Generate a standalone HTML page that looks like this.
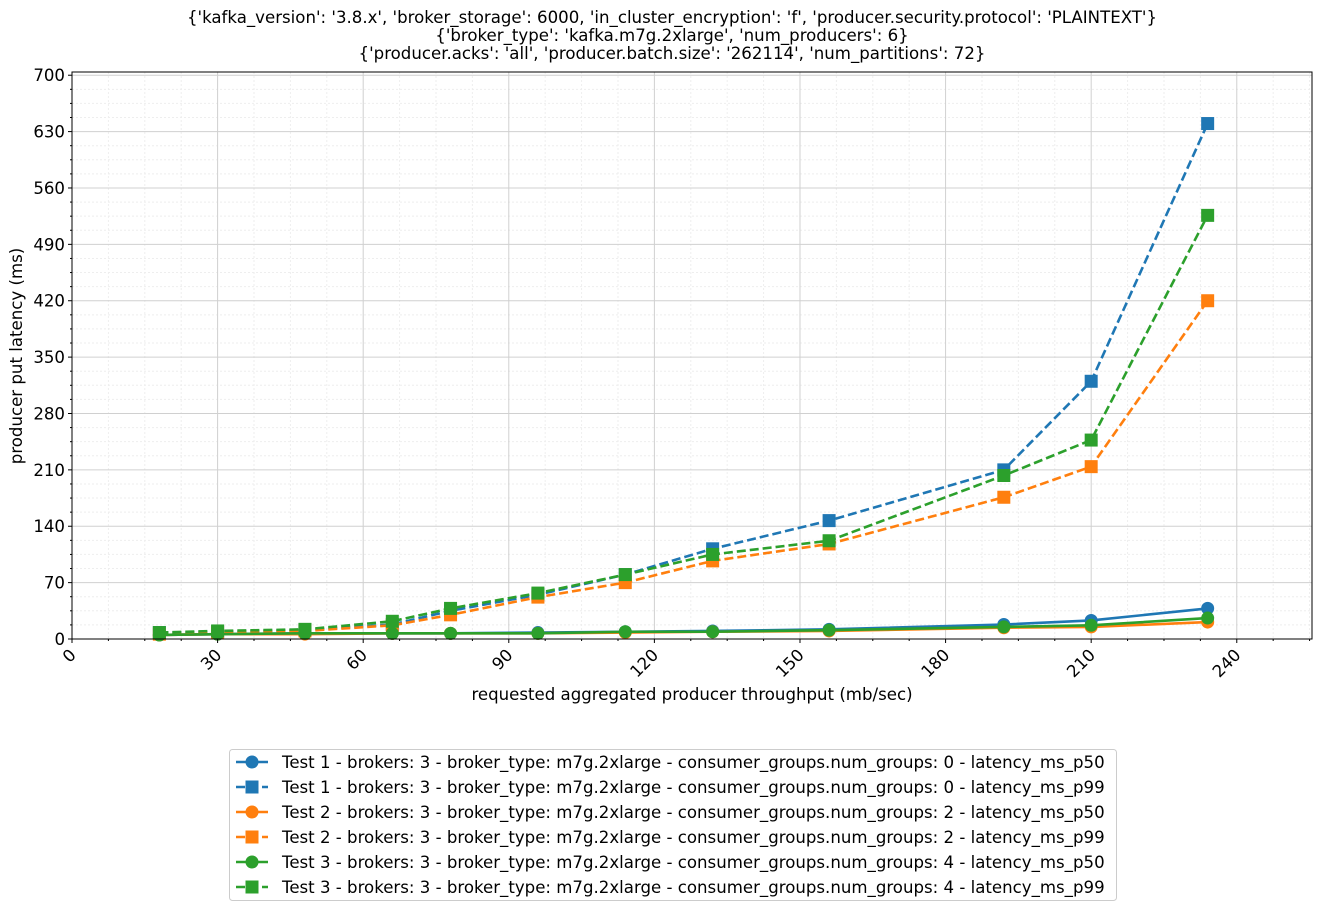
<!DOCTYPE html>
<html><head><meta charset="utf-8"><style>
body{margin:0;background:#fff;font-family:"Liberation Sans","DejaVu Sans",sans-serif;}
svg text{font-family:"DejaVu Sans","Liberation Sans",sans-serif;}
</style></head><body>
<svg id="chart" width="1322" height="911" xmlns="http://www.w3.org/2000/svg">
<g font-size="16.6" text-anchor="middle" fill="#000">
<text x="672" y="23">{'kafka_version': '3.8.x', 'broker_storage': 6000, 'in_cluster_encryption': 'f', 'producer.security.protocol': 'PLAINTEXT'}</text>
<text x="672" y="41">{'broker_type': 'kafka.m7g.2xlarge', 'num_producers': 6}</text>
<text x="672" y="59">{'producer.acks': 'all', 'producer.batch.size': '262114', 'num_partitions': 72}</text>
</g>
<g id="grid"></g>
<g id="series"></g>
<rect x="72" y="72" width="1240" height="567" fill="none" stroke="#000" stroke-width="1"/>
<g id="axes"></g>
<text x="692" y="700" font-size="16.6" text-anchor="middle">requested aggregated producer throughput (mb/sec)</text>
<text transform="translate(22,356) rotate(-90)" font-size="16.6" text-anchor="middle">producer put latency (ms)</text>
<g id="legend"></g>
</svg>
<script>
const xVals=[18,30,48,66,78,96,114,132,156,192,210,234];
const t1p50=[5,6,7,7,7,8,9,10,12,18,23,38];
const t1p99=[8,9,11,18,35,55,80,112,147,210,320,640];
const t2p50=[5,6,6,7,7,7,8,9,10,14,15,21];
const t2p99=[6,8,10,17,30,52,70,97,118,176,214,420];
const t3p50=[5,6,7,7,7,7,9,9,11,15,17,26];
const t3p99=[8,10,12,22,38,57,80,105,122,203,247,526];
const xTicks=[0,30,60,90,120,150,180,210,240];
const yTicks=[0,70,140,210,280,350,420,490,560,630,700];
const legendLabels=["Test 1 - brokers: 3 - broker_type: m7g.2xlarge - consumer_groups.num_groups: 0 - latency_ms_p50","Test 1 - brokers: 3 - broker_type: m7g.2xlarge - consumer_groups.num_groups: 0 - latency_ms_p99","Test 2 - brokers: 3 - broker_type: m7g.2xlarge - consumer_groups.num_groups: 2 - latency_ms_p50","Test 2 - brokers: 3 - broker_type: m7g.2xlarge - consumer_groups.num_groups: 2 - latency_ms_p99","Test 3 - brokers: 3 - broker_type: m7g.2xlarge - consumer_groups.num_groups: 4 - latency_ms_p50","Test 3 - brokers: 3 - broker_type: m7g.2xlarge - consumer_groups.num_groups: 4 - latency_ms_p99"];
const NS="http://www.w3.org/2000/svg";
const X0=72,X1=1312,Y0=639,Y1=72,xmax=255.5,ymax=704;
const xs=v=>X0+v/xmax*(X1-X0);
const ys=v=>Y0-v/ymax*(Y0-Y1);
function mk(t,a,p){const e=document.createElementNS(NS,t);for(const k in a)e.setAttribute(k,a[k]);p.appendChild(e);return e;}
const grid=document.getElementById('grid'),axes=document.getElementById('axes');
for(let v=7.5;v<xmax;v+=7.5){if(v%30===0)continue;
 const l=mk('line',{x1:xs(v),x2:xs(v),y1:Y1,y2:Y0,stroke:'#eee','stroke-dasharray':'2,2'},grid);
 
 mk('line',{x1:xs(v),x2:xs(v),y1:Y0,y2:Y0+2,stroke:'#000'},axes);}
for(let v=17.5;v<ymax;v+=17.5){if(v%70===0)continue;
 const l=mk('line',{x1:X0,x2:X1,y1:ys(v),y2:ys(v),stroke:'#eee','stroke-dasharray':'2,2'},grid);
 
 mk('line',{x1:X0-2,x2:X0,y1:ys(v),y2:ys(v),stroke:'#000'},axes);}
xTicks.forEach(v=>{const x=xs(v);
 const g=mk('line',{x1:x,x2:x,y1:Y1,y2:Y0,stroke:'#d0d0d0'},grid);
 
 mk('line',{x1:x,x2:x,y1:Y0,y2:Y0+4,stroke:'#000'},axes);
 const t=mk('text',{x:x+5,y:Y0+17,'font-size':16.6,'text-anchor':'end',transform:`rotate(-45 ${x+5} ${Y0+17})`},axes);
 t.textContent=v;});
yTicks.forEach(v=>{const y=ys(v);
 const g=mk('line',{x1:X0,x2:X1,y1:y,y2:y,stroke:'#d0d0d0'},grid);
 
 mk('line',{x1:X0-4,x2:X0,y1:y,y2:y,stroke:'#000'},axes);
 const t=mk('text',{x:X0-7,y:y+6,'font-size':16.6,'text-anchor':'end'},axes);
 t.textContent=v;});
const cols=['#1f77b4','#ff7f0e','#2ca02c'];
const series=[[t1p50,0,0],[t1p99,0,1],[t2p50,1,0],[t2p99,1,1],[t3p50,2,0],[t3p99,2,1]];
const sg=document.getElementById('series');
series.forEach(([d,c,dash],i)=>{
 const g=mk('g',{},sg);
 const p=mk('polyline',{points:d.map((v,j)=>xs(xVals[j])+','+ys(v)).join(' '),fill:'none',stroke:cols[c],'stroke-width':2.6},g);
 if(dash)p.setAttribute('stroke-dasharray','9,4');
 d.forEach((v,j)=>{const m=dash?mk('rect',{x:xs(xVals[j])-6.5,y:ys(v)-6.5,width:13,height:13,fill:cols[c]},g):mk('circle',{cx:xs(xVals[j]),cy:ys(v),r:6.5,fill:cols[c]},g);
  });
});
const lg=document.getElementById('legend');
mk('rect',{x:229.5,y:749.5,width:887,height:151,rx:3,fill:'#fff',stroke:'#ccc'},lg);
legendLabels.forEach((s,i)=>{const y=762+i*25,c=cols[Math.floor(i/2)],dash=i%2;
 const g=mk('g',{},lg);
 const l=mk('line',{x1:236,x2:268,y1:y,y2:y,stroke:c,'stroke-width':2.6},g);
 if(dash)l.setAttribute('stroke-dasharray','9,4');
 if(dash)mk('rect',{x:245.5,y:y-6.5,width:13,height:13,fill:c},g);else mk('circle',{cx:252,cy:y,r:6.5,fill:c},g);
 const t=mk('text',{x:282,y:y+6,'font-size':16.6},g);t.textContent=s;});
</script>
</body></html>
